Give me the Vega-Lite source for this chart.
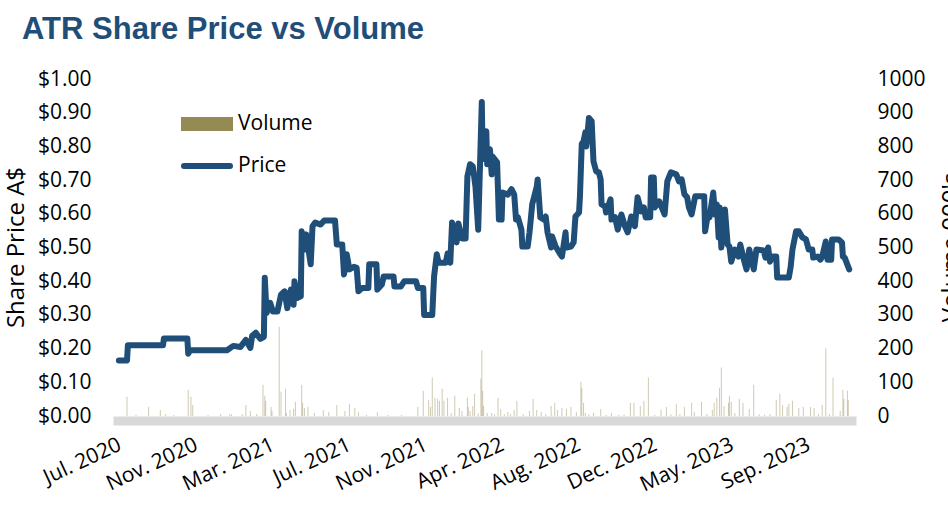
{
  "$schema": "https://vega.github.io/schema/vega-lite/v6.json",
  "width": 743,
  "height": 337,
  "autosize": {"type": "none"},
  "padding": {"left": 113, "top": 79, "right": 92, "bottom": 89},
  "background": "white",
  "config": {
    "font": "Open Sans",
    "view": {"stroke": null},
    "axis": {"grid": false, "ticks": false, "labelColor": "#000000", "titleColor": "#000000", "labelFontSize": 21, "titleFontSize": 24, "titleFontWeight": "normal", "labelFont": "Open Sans", "titleFont": "Open Sans"},
    "legend": {"labelFontSize": 21, "labelColor": "#000000", "labelFont": "Open Sans", "padding": 0}
  },
  "title": {
    "text": "ATR Share Price vs Volume",
    "anchor": "start",
    "frame": "group",
    "font": "Liberation Sans",
    "fontSize": 31,
    "fontWeight": "bold",
    "color": "#1f4e79",
    "baseline": "alphabetic",
    "offset": 28,
    "dx": -91,
    "dy": 30
  },
  "datasets": {
    "price": [
      {"day": 1, "price": 0.165}, {"day": 10, "price": 0.165}, {"day": 11, "price": 0.21}, {"day": 50, "price": 0.21},
      {"day": 51, "price": 0.23}, {"day": 77, "price": 0.23}, {"day": 78, "price": 0.185}, {"day": 80, "price": 0.195},
      {"day": 121, "price": 0.195}, {"day": 128, "price": 0.208}, {"day": 136, "price": 0.205}, {"day": 142, "price": 0.226},
      {"day": 147, "price": 0.202}, {"day": 149, "price": 0.238}, {"day": 153, "price": 0.247}, {"day": 158, "price": 0.229},
      {"day": 162, "price": 0.235}, {"day": 163, "price": 0.41}, {"day": 165, "price": 0.306}, {"day": 169, "price": 0.336},
      {"day": 172, "price": 0.31}, {"day": 177, "price": 0.31}, {"day": 181, "price": 0.36}, {"day": 185, "price": 0.37},
      {"day": 188, "price": 0.32}, {"day": 192, "price": 0.375}, {"day": 195, "price": 0.33}, {"day": 196, "price": 0.4},
      {"day": 199, "price": 0.35}, {"day": 203, "price": 0.355}, {"day": 204, "price": 0.548}, {"day": 207, "price": 0.494},
      {"day": 209, "price": 0.539}, {"day": 214, "price": 0.45}, {"day": 216, "price": 0.563}, {"day": 219, "price": 0.574},
      {"day": 225, "price": 0.568}, {"day": 229, "price": 0.58}, {"day": 241, "price": 0.58}, {"day": 243, "price": 0.509},
      {"day": 249, "price": 0.509}, {"day": 251, "price": 0.42}, {"day": 254, "price": 0.48}, {"day": 257, "price": 0.435},
      {"day": 262, "price": 0.443}, {"day": 265, "price": 0.44}, {"day": 267, "price": 0.37}, {"day": 271, "price": 0.38},
      {"day": 278, "price": 0.38}, {"day": 279, "price": 0.45}, {"day": 287, "price": 0.45}, {"day": 288, "price": 0.375},
      {"day": 293, "price": 0.39}, {"day": 295, "price": 0.414}, {"day": 306, "price": 0.414}, {"day": 307, "price": 0.384},
      {"day": 314, "price": 0.384}, {"day": 318, "price": 0.4}, {"day": 331, "price": 0.4}, {"day": 333, "price": 0.38},
      {"day": 339, "price": 0.38}, {"day": 340, "price": 0.3}, {"day": 349, "price": 0.3}, {"day": 351, "price": 0.414},
      {"day": 354, "price": 0.48}, {"day": 356, "price": 0.455}, {"day": 364, "price": 0.455}, {"day": 366, "price": 0.482},
      {"day": 369, "price": 0.455}, {"day": 371, "price": 0.574}, {"day": 376, "price": 0.515}, {"day": 378, "price": 0.571},
      {"day": 382, "price": 0.527}, {"day": 386, "price": 0.527}, {"day": 388, "price": 0.711}, {"day": 391, "price": 0.747},
      {"day": 394, "price": 0.741}, {"day": 397, "price": 0.68}, {"day": 400, "price": 0.553}, {"day": 404, "price": 0.932},
      {"day": 405, "price": 0.762}, {"day": 409, "price": 0.845}, {"day": 410, "price": 0.747}, {"day": 413, "price": 0.792},
      {"day": 415, "price": 0.717}, {"day": 416, "price": 0.77}, {"day": 421, "price": 0.753}, {"day": 423, "price": 0.583},
      {"day": 426, "price": 0.583}, {"day": 427, "price": 0.663}, {"day": 433, "price": 0.657}, {"day": 437, "price": 0.673},
      {"day": 440, "price": 0.657}, {"day": 442, "price": 0.583}, {"day": 444, "price": 0.59}, {"day": 448, "price": 0.553},
      {"day": 449, "price": 0.503}, {"day": 455, "price": 0.503}, {"day": 457, "price": 0.545}, {"day": 460, "price": 0.628},
      {"day": 465, "price": 0.68}, {"day": 466, "price": 0.702}, {"day": 469, "price": 0.589}, {"day": 473, "price": 0.583},
      {"day": 475, "price": 0.592}, {"day": 477, "price": 0.545}, {"day": 481, "price": 0.5}, {"day": 482, "price": 0.533},
      {"day": 486, "price": 0.503}, {"day": 490, "price": 0.485}, {"day": 493, "price": 0.473}, {"day": 497, "price": 0.545},
      {"day": 498, "price": 0.5}, {"day": 503, "price": 0.503}, {"day": 506, "price": 0.515}, {"day": 508, "price": 0.592},
      {"day": 512, "price": 0.604}, {"day": 513, "price": 0.652}, {"day": 515, "price": 0.807}, {"day": 517, "price": 0.815},
      {"day": 519, "price": 0.842}, {"day": 520, "price": 0.8}, {"day": 523, "price": 0.884}, {"day": 526, "price": 0.875},
      {"day": 528, "price": 0.756}, {"day": 531, "price": 0.726}, {"day": 534, "price": 0.723}, {"day": 536, "price": 0.702},
      {"day": 537, "price": 0.628}, {"day": 541, "price": 0.622}, {"day": 542, "price": 0.604}, {"day": 547, "price": 0.643},
      {"day": 548, "price": 0.583}, {"day": 552, "price": 0.59}, {"day": 555, "price": 0.553}, {"day": 559, "price": 0.598},
      {"day": 563, "price": 0.563}, {"day": 566, "price": 0.545}, {"day": 570, "price": 0.592}, {"day": 574, "price": 0.563},
      {"day": 577, "price": 0.649}, {"day": 581, "price": 0.607}, {"day": 584, "price": 0.619}, {"day": 586, "price": 0.589},
      {"day": 591, "price": 0.59}, {"day": 592, "price": 0.708}, {"day": 595, "price": 0.708}, {"day": 596, "price": 0.619},
      {"day": 601, "price": 0.637}, {"day": 607, "price": 0.598}, {"day": 610, "price": 0.696}, {"day": 614, "price": 0.723},
      {"day": 620, "price": 0.717}, {"day": 623, "price": 0.696}, {"day": 626, "price": 0.702}, {"day": 629, "price": 0.658},
      {"day": 632, "price": 0.649}, {"day": 634, "price": 0.619}, {"day": 637, "price": 0.598}, {"day": 641, "price": 0.652},
      {"day": 651, "price": 0.652}, {"day": 652, "price": 0.548}, {"day": 655, "price": 0.598}, {"day": 657, "price": 0.59},
      {"day": 661, "price": 0.663}, {"day": 663, "price": 0.598}, {"day": 665, "price": 0.628}, {"day": 667, "price": 0.53},
      {"day": 668, "price": 0.619}, {"day": 670, "price": 0.5}, {"day": 674, "price": 0.613}, {"day": 677, "price": 0.509},
      {"day": 679, "price": 0.503}, {"day": 681, "price": 0.458}, {"day": 685, "price": 0.494}, {"day": 689, "price": 0.473},
      {"day": 691, "price": 0.509}, {"day": 695, "price": 0.464}, {"day": 698, "price": 0.435}, {"day": 701, "price": 0.494},
      {"day": 706, "price": 0.435}, {"day": 709, "price": 0.494}, {"day": 717, "price": 0.491}, {"day": 719, "price": 0.47},
      {"day": 722, "price": 0.5}, {"day": 724, "price": 0.458}, {"day": 727, "price": 0.473}, {"day": 731, "price": 0.473},
      {"day": 732, "price": 0.411}, {"day": 745, "price": 0.411}, {"day": 747, "price": 0.443}, {"day": 749, "price": 0.494},
      {"day": 753, "price": 0.548}, {"day": 756, "price": 0.548}, {"day": 760, "price": 0.53}, {"day": 764, "price": 0.524},
      {"day": 767, "price": 0.494}, {"day": 771, "price": 0.494}, {"day": 772, "price": 0.47}, {"day": 777, "price": 0.473},
      {"day": 780, "price": 0.464}, {"day": 782, "price": 0.473}, {"day": 786, "price": 0.518}, {"day": 788, "price": 0.464},
      {"day": 792, "price": 0.464}, {"day": 793, "price": 0.524}, {"day": 800, "price": 0.524}, {"day": 804, "price": 0.515},
      {"day": 805, "price": 0.473}, {"day": 807, "price": 0.47}, {"day": 812, "price": 0.435}
    ],
    "volume": [
      {"day": 10, "vol": 57}, {"day": 20, "vol": 4}, {"day": 34, "vol": 27}, {"day": 47, "vol": 18}, {"day": 53, "vol": 6},
      {"day": 62, "vol": 3}, {"day": 78, "vol": 78}, {"day": 81, "vol": 57}, {"day": 83, "vol": 33}, {"day": 100, "vol": 3},
      {"day": 114, "vol": 6}, {"day": 124, "vol": 5}, {"day": 126, "vol": 5}, {"day": 138, "vol": 6}, {"day": 142, "vol": 33},
      {"day": 147, "vol": 15}, {"day": 154, "vol": 6}, {"day": 161, "vol": 93}, {"day": 163, "vol": 60}, {"day": 164, "vol": 45},
      {"day": 170, "vol": 27}, {"day": 171, "vol": 15}, {"day": 179, "vol": 265}, {"day": 181, "vol": 72}, {"day": 186, "vol": 81},
      {"day": 187, "vol": 9}, {"day": 191, "vol": 18}, {"day": 195, "vol": 21}, {"day": 197, "vol": 42}, {"day": 204, "vol": 93},
      {"day": 205, "vol": 39}, {"day": 207, "vol": 24}, {"day": 211, "vol": 27}, {"day": 218, "vol": 9}, {"day": 228, "vol": 18},
      {"day": 234, "vol": 12}, {"day": 243, "vol": 33}, {"day": 252, "vol": 15}, {"day": 257, "vol": 36}, {"day": 263, "vol": 24},
      {"day": 267, "vol": 12}, {"day": 276, "vol": 4}, {"day": 288, "vol": 12}, {"day": 300, "vol": 3}, {"day": 315, "vol": 3},
      {"day": 333, "vol": 27}, {"day": 339, "vol": 75}, {"day": 345, "vol": 48}, {"day": 347, "vol": 27}, {"day": 349, "vol": 114},
      {"day": 352, "vol": 54}, {"day": 355, "vol": 51}, {"day": 357, "vol": 45}, {"day": 360, "vol": 81}, {"day": 362, "vol": 45},
      {"day": 366, "vol": 54}, {"day": 370, "vol": 8}, {"day": 374, "vol": 60}, {"day": 379, "vol": 24}, {"day": 382, "vol": 15},
      {"day": 388, "vol": 54}, {"day": 389, "vol": 27}, {"day": 391, "vol": 15}, {"day": 394, "vol": 30}, {"day": 396, "vol": 66},
      {"day": 400, "vol": 8}, {"day": 403, "vol": 111}, {"day": 404, "vol": 195}, {"day": 405, "vol": 75}, {"day": 406, "vol": 30},
      {"day": 410, "vol": 9}, {"day": 415, "vol": 9}, {"day": 418, "vol": 5}, {"day": 422, "vol": 54}, {"day": 425, "vol": 21},
      {"day": 429, "vol": 6}, {"day": 433, "vol": 12}, {"day": 436, "vol": 6}, {"day": 440, "vol": 18}, {"day": 443, "vol": 45},
      {"day": 450, "vol": 5}, {"day": 457, "vol": 15}, {"day": 461, "vol": 51}, {"day": 465, "vol": 18}, {"day": 470, "vol": 12},
      {"day": 475, "vol": 6}, {"day": 481, "vol": 30}, {"day": 485, "vol": 39}, {"day": 488, "vol": 18}, {"day": 493, "vol": 24},
      {"day": 498, "vol": 21}, {"day": 503, "vol": 27}, {"day": 509, "vol": 12}, {"day": 514, "vol": 102}, {"day": 515, "vol": 84},
      {"day": 517, "vol": 39}, {"day": 519, "vol": 9}, {"day": 523, "vol": 5}, {"day": 528, "vol": 9}, {"day": 536, "vol": 21},
      {"day": 542, "vol": 4}, {"day": 548, "vol": 9}, {"day": 556, "vol": 4}, {"day": 562, "vol": 4}, {"day": 569, "vol": 39},
      {"day": 573, "vol": 39}, {"day": 580, "vol": 30}, {"day": 584, "vol": 45}, {"day": 589, "vol": 114}, {"day": 596, "vol": 4},
      {"day": 603, "vol": 18}, {"day": 609, "vol": 27}, {"day": 614, "vol": 5}, {"day": 620, "vol": 36}, {"day": 624, "vol": 5},
      {"day": 629, "vol": 27}, {"day": 637, "vol": 39}, {"day": 640, "vol": 12}, {"day": 648, "vol": 42}, {"day": 654, "vol": 6},
      {"day": 660, "vol": 18}, {"day": 662, "vol": 39}, {"day": 665, "vol": 54}, {"day": 668, "vol": 84}, {"day": 670, "vol": 144},
      {"day": 673, "vol": 30}, {"day": 678, "vol": 39}, {"day": 679, "vol": 60}, {"day": 681, "vol": 42}, {"day": 685, "vol": 8},
      {"day": 690, "vol": 51}, {"day": 694, "vol": 39}, {"day": 701, "vol": 21}, {"day": 706, "vol": 93}, {"day": 712, "vol": 5},
      {"day": 718, "vol": 4}, {"day": 724, "vol": 6}, {"day": 731, "vol": 48}, {"day": 735, "vol": 66}, {"day": 738, "vol": 33},
      {"day": 743, "vol": 27}, {"day": 745, "vol": 36}, {"day": 749, "vol": 45}, {"day": 756, "vol": 24}, {"day": 761, "vol": 27},
      {"day": 769, "vol": 27}, {"day": 773, "vol": 24}, {"day": 778, "vol": 6}, {"day": 782, "vol": 33}, {"day": 786, "vol": 201},
      {"day": 790, "vol": 6}, {"day": 794, "vol": 114}, {"day": 802, "vol": 15}, {"day": 805, "vol": 78}, {"day": 806, "vol": 51},
      {"day": 810, "vol": 75}, {"day": 811, "vol": 48}
    ]
  },
  "layer": [
    {
      "data": {"name": "volume"},
      "mark": {"type": "bar", "width": 1, "opacity": 0.45},
      "encoding": {
        "x": {
          "field": "day", "type": "quantitative",
          "scale": {"domain": [0, 814], "nice": false, "zero": false},
          "axis": {
            "title": null,
            "values": [0, 85, 170, 255, 340, 425, 510, 595, 680, 765],
            "labelExpr": "['Jul. 2020','Nov. 2020','Mar. 2021','Jul. 2021','Nov. 2021','Apr. 2022','Aug. 2022','Dec. 2022','May. 2023','Sep. 2023'][round(datum.value/85)]",
            "labelAngle": -25,
            "labelAlign": "right",
            "labelBaseline": "top",
            "labelOffset": -3,
            "labelPadding": 13,
            "offset": 4.5,
            "domainColor": "#d9d9d9",
            "domainWidth": 9,
            "labelOverlap": false,
            "labelBound": false,
            "labelFlush": false
          }
        },
        "y": {
          "field": "vol", "type": "quantitative",
          "scale": {"domain": [0, 1000], "nice": false},
          "axis": {
            "orient": "right",
            "values": [0, 100, 200, 300, 400, 500, 600, 700, 800, 900, 1000],
            "format": "d",
            "domain": false,
            "labelPadding": 21,
            "labelAlign": "left",
            "title": "Volume 000's",
            "titleAngle": -90,
            "titleBaseline": "top",
            "titleAlign": "center",
            "titleX": 83,
            "titleY": 168
          }
        },
        "fill": {
          "datum": "Volume", "type": "nominal",
          "scale": {"domain": ["Volume"], "range": ["#948a54"]},
          "legend": {
            "orient": "none", "legendX": 68, "legendY": 19, "title": null,
            "symbolType": "M-1,-0.27L1,-0.27L1,0.27L-1,0.27Z",
            "symbolSize": 2704, "symbolStrokeWidth": 0, "symbolOpacity": 1,
            "labelOffset": 5
          }
        }
      }
    },
    {
      "data": {"name": "price"},
      "mark": {"type": "line", "strokeWidth": 6, "strokeJoin": "round", "strokeCap": "round"},
      "encoding": {
        "x": {"field": "day", "type": "quantitative"},
        "y": {
          "field": "price", "type": "quantitative",
          "scale": {"domain": [0, 1], "nice": false},
          "axis": {
            "orient": "left",
            "values": [0, 0.1, 0.2, 0.3, 0.4, 0.5, 0.6, 0.7, 0.8, 0.9, 1],
            "format": "$.2f",
            "domain": false,
            "labelPadding": 22,
            "title": "Share Price A$",
            "titleAngle": -90,
            "titleBaseline": "top",
            "titleAlign": "center",
            "titleX": -109,
            "titleY": 168
          }
        },
        "stroke": {
          "datum": "Price", "type": "nominal",
          "scale": {"domain": ["Price"], "range": ["#1f4e79"]},
          "legend": {
            "orient": "none", "legendX": 68, "legendY": 61, "title": null,
            "symbolType": "M-1,0L1,0",
            "symbolSize": 2116, "symbolStrokeWidth": 6,
            "labelOffset": 5,
            "encode": {"symbols": {"update": {"strokeCap": {"value": "round"}}}}
          }
        }
      }
    }
  ],
  "resolve": {"scale": {"y": "independent"}}
}
